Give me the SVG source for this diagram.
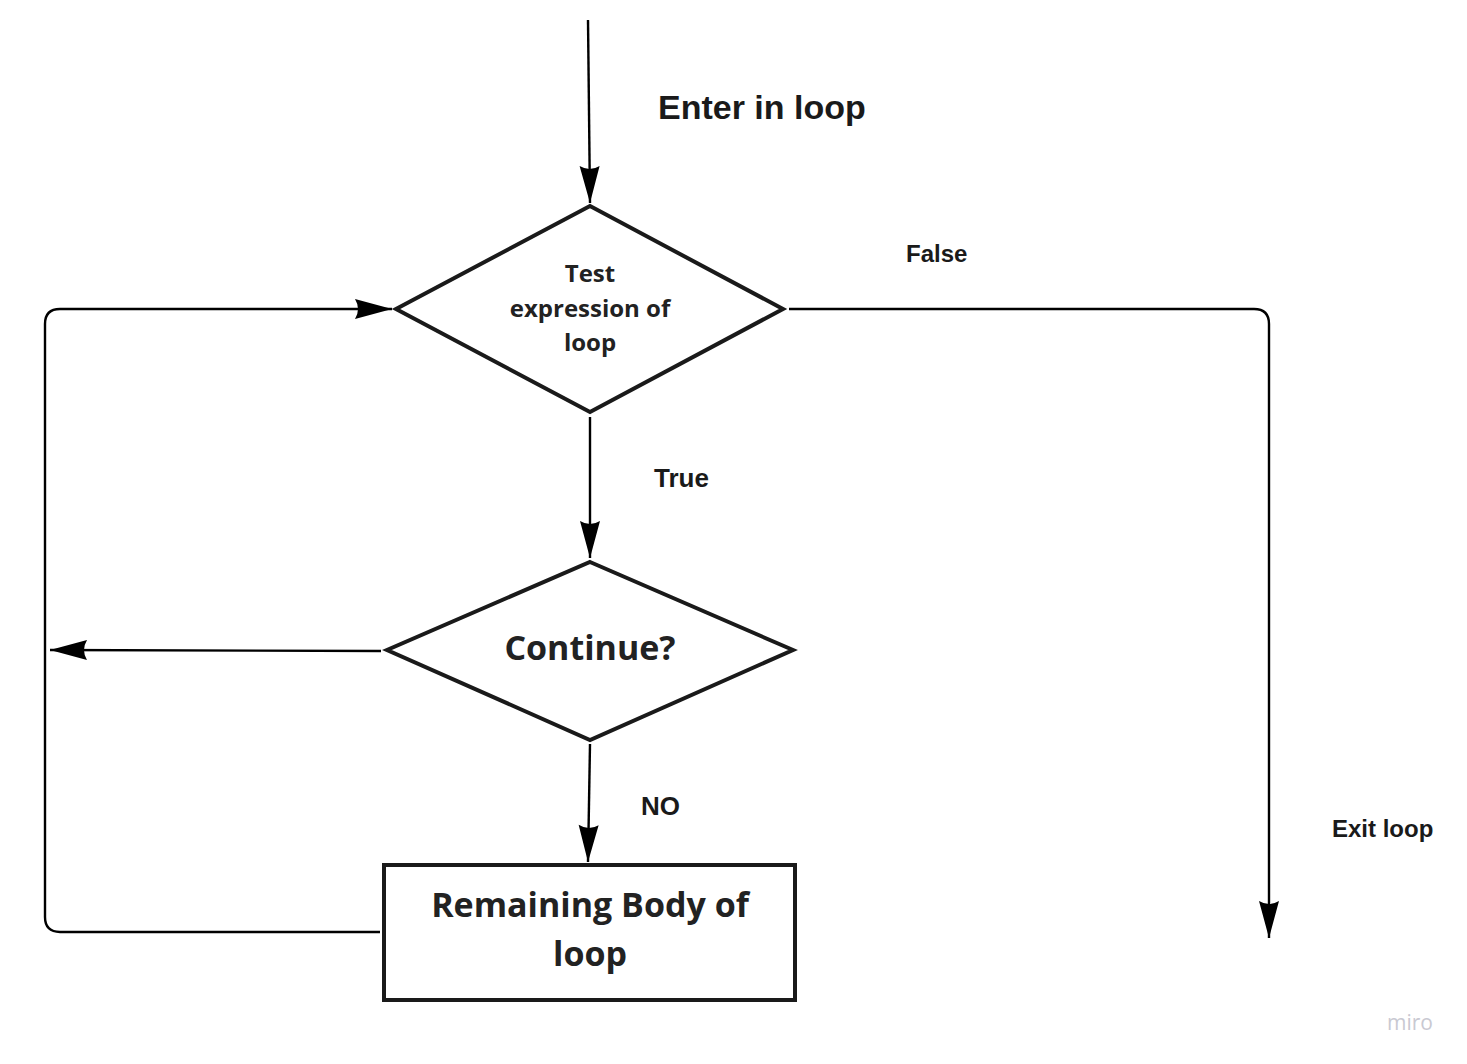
<svg xmlns="http://www.w3.org/2000/svg" width="1467" height="1064" viewBox="0 0 1467 1064">
<style>
.shape{fill:#fff;stroke:#1a1a1a;stroke-width:4;stroke-linejoin:miter}
.conn{fill:none;stroke:#000;stroke-width:2.4}
.nt{font-family:"Open Sans",sans-serif;font-weight:700;fill:#222;text-anchor:middle}
.lb{font-family:"Liberation Sans",Arial,sans-serif;font-weight:700;fill:#1a1a1a}
</style>
<defs>
<marker id="ah" markerUnits="userSpaceOnUse" markerWidth="40" markerHeight="24" viewBox="-38 -11 40 22" refX="0" refY="0" orient="auto">
<path d="M0,0 L-37,-10 Q-31,0 -37,10 Z" fill="#000"/>
</marker>
</defs>
<rect width="1467" height="1064" fill="#fff"/>
<g id="connectors">
<path class="conn" d="M588,20 L590,203" marker-end="url(#ah)"/>
<path class="conn" d="M380,932 L60,932 Q45,932 45,917 L45,324 Q45,309 60,309 L392,309" marker-end="url(#ah)"/>
<path class="conn" d="M789,309 L1254,309 Q1269,309 1269,324 L1269,938" marker-end="url(#ah)"/>
<path class="conn" d="M590,417 L590,558" marker-end="url(#ah)"/>
<path class="conn" d="M381,651 L50,650" marker-end="url(#ah)"/>
<path class="conn" d="M590,744 L588,862" marker-end="url(#ah)"/>
</g>
<g id="node-test">
<polygon class="shape" points="590,206 783,309 590,412 396,309"/>
<text class="nt" font-size="24" x="590" y="282">Test</text>
<text class="nt" font-size="24" x="590" y="317">expression of</text>
<text class="nt" font-size="24" x="590" y="351">loop</text>
</g>
<g id="node-continue">
<polygon class="shape" points="590,562 793,650 590,740 387,650"/>
<text class="nt" font-size="34" x="590" y="660">Continue?</text>
</g>
<g id="node-body">
<rect class="shape" x="384" y="865" width="411" height="135"/>
<text class="nt" font-size="34" x="590" y="917">Remaining Body of</text>
<text class="nt" font-size="34" x="590" y="966">loop</text>
</g>
<g id="labels">
<text class="lb" font-size="34" x="658" y="119">Enter in loop</text>
<text class="lb" font-size="24" x="906" y="262">False</text>
<text class="lb" font-size="26" x="654" y="487">True</text>
<text class="lb" font-size="26" x="641" y="815">NO</text>
<text class="lb" font-size="24" x="1332" y="837">Exit loop</text>
<text x="1387" y="1030" font-family="'Open Sans',sans-serif" font-size="21" fill="#c9c9d2">miro</text>
</g>
</svg>
